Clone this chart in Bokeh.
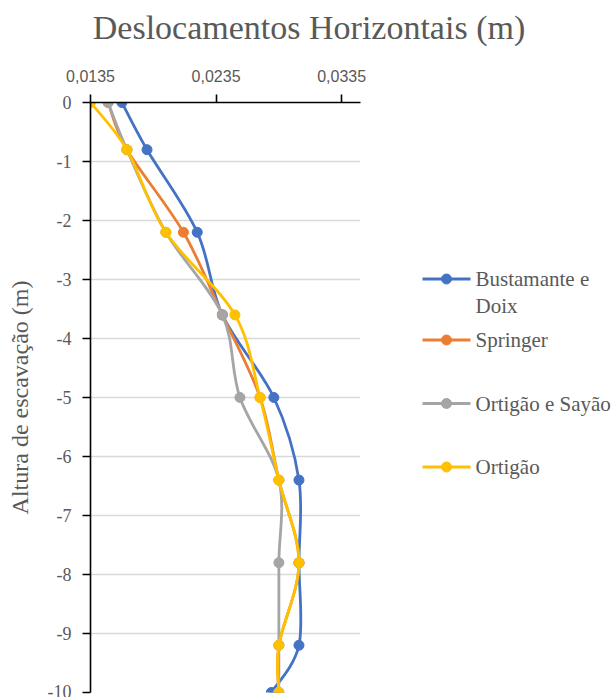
from bokeh.plotting import figure
from bokeh.models import Range1d, FixedTicker
from bokeh.layouts import column, row
from bokeh.core.properties import value
from bokeh.embed import file_html
from bokeh.resources import INLINE

# Depth below the top of the excavation (m)
depth = [0.0, -0.8, -2.2, -3.6, -5.0, -6.4, -7.8, -9.2, -10.0]

# Horizontal displacement (m) for each method
bustamante = [0.0160, 0.0180, 0.0220, 0.0240, 0.0281, 0.0301, 0.0301, 0.0301, 0.0279]
springer = [0.0149, 0.0164, 0.0209, 0.0240, 0.0270, 0.0285, 0.0301, 0.0285, 0.0285]
sayao = [0.0149, 0.0164, 0.0195, 0.0240, 0.0254, 0.0285, 0.0285, 0.0285, 0.0285]
ortigao = [0.0135, 0.0164, 0.0195, 0.0250, 0.0270, 0.0285, 0.0301, 0.0285, 0.0285]

# Legend labels, already wrapped to the width of the key column
series_label_lines = [["Bustamante e", "Doix"], ["Springer"], ["Ortigão e Sayão"], ["Ortigão"]]
series_colors = ["#4472C4", "#ED7D31", "#A5A5A5", "#FFC000"]

x_ticks = [0.0135, 0.0235, 0.0335]
x_tick_labels = ["0,0135", "0,0235", "0,0335"]
y_ticks = [0, -1, -2, -3, -4, -5, -6, -7, -8, -9, -10]
y_tick_labels = ["0", "-1", "-2", "-3", "-4", "-5", "-6", "-7", "-8", "-9", "-10"]

TITLE = "Deslocamentos Horizontais (m)"
Y_LABEL = "Altura de escavação (m)"
SERIF = "Liberation Serif"
TEXT_GRAY = "#595959"

W, H = 616, 697
HEAD_H = 56
MAIN_W = 380
BODY_H = H - HEAD_H
FRAME_TOP = 46      # space above the plotting area inside the body row
FRAME_BOTTOM = 5    # space below it


def smooth_segments(xs, ys):
    """Cubic Bezier pieces (Catmull-Rom style) through consecutive points."""
    n = len(xs)
    out = {k: [] for k in ("x0", "y0", "x1", "y1", "cx0", "cy0", "cx1", "cy1")}
    for i in range(n - 1):
        a = i - 1 if i > 0 else i
        b = i + 2 if i + 2 < n else i + 1
        out["x0"].append(xs[i]); out["y0"].append(ys[i])
        out["x1"].append(xs[i + 1]); out["y1"].append(ys[i + 1])
        out["cx0"].append(xs[i] + (xs[i + 1] - xs[a]) / 6.0)
        out["cy0"].append(ys[i] + (ys[i + 1] - ys[a]) / 6.0)
        out["cx1"].append(xs[i + 1] - (xs[b] - xs[i]) / 6.0)
        out["cy1"].append(ys[i + 1] - (ys[b] - ys[i]) / 6.0)
    return out


# ---- header with the chart title
head = figure(title=None, width=W, height=HEAD_H, x_range=Range1d(0, W), y_range=Range1d(HEAD_H, 0),
              x_axis_type=None, y_axis_type=None, min_border=0,
              output_backend="svg", toolbar_location=None)
head.outline_line_color = None
head.text(x=[W / 2 + 0.5], y=[27], text=[TITLE], text_align="center",
          text_baseline="alphabetic", text_font=value(SERIF),
          text_font_size="34px", text_color=TEXT_GRAY)

# ---- main chart
p = figure(title=None, width=MAIN_W, height=BODY_H,
           x_range=Range1d(0.0135, 0.035), y_range=Range1d(-10, 0),
           x_axis_location="above",
           min_border_left=90, min_border_right=20,
           min_border_top=FRAME_TOP, min_border_bottom=FRAME_BOTTOM,
           output_backend="svg", toolbar_location=None)
p.outline_line_color = None
p.xgrid.visible = False
p.ygrid.grid_line_color = "#D9D9D9"
p.ygrid.grid_line_width = 1.3

p.xaxis.ticker = FixedTicker(ticks=x_ticks)
p.xaxis.major_label_overrides = dict(zip(x_ticks, x_tick_labels))
p.xaxis.major_label_text_font = "Liberation Sans"
p.xaxis.major_label_text_font_size = "16px"
p.xaxis.major_label_standoff = 13

p.yaxis.ticker = FixedTicker(ticks=y_ticks)
p.yaxis.major_label_overrides = dict(zip(y_ticks, y_tick_labels))
p.yaxis.major_label_text_font = SERIF
p.yaxis.major_label_text_font_size = "18px"
p.yaxis.major_label_standoff = 11
p.yaxis.axis_label = Y_LABEL
p.yaxis.axis_label_text_font = SERIF
p.yaxis.axis_label_text_font_size = "24px"
p.yaxis.axis_label_text_font_style = "normal"
p.yaxis.axis_label_text_color = TEXT_GRAY
p.yaxis.axis_label_standoff = 12

for ax in (p.xaxis[0], p.yaxis[0]):
    ax.axis_line_color = "black"
    ax.axis_line_width = 1.6
    ax.major_tick_line_color = "black"
    ax.major_tick_line_width = 1.6
    ax.major_tick_out = 8
    ax.major_tick_in = 0
    ax.minor_tick_line_color = None
    ax.major_label_text_color = TEXT_GRAY

for xs, color in zip([bustamante, springer, sayao, ortigao], series_colors):
    seg = smooth_segments(xs, depth)
    p.bezier(**seg, line_color=color, line_width=2.8, line_cap="round")
    p.scatter(x=xs, y=depth, size=10, marker="circle",
              fill_color=color, line_color=color)

# ---- legend panel (its plotting area lines up with the main one)
leg_top = HEAD_H + FRAME_TOP
leg_bottom = H - FRAME_BOTTOM
leg = figure(title=None, width=W - MAIN_W, height=BODY_H,
             x_range=Range1d(MAIN_W, W), y_range=Range1d(leg_bottom, leg_top),
             x_axis_type=None, y_axis_type=None, min_border=0,
             output_backend="svg", toolbar_location=None)
leg.outline_line_color = None

key_y = [278.5, 339.5, 403, 466.5]
key_x0, key_x1, key_text_x = 422, 470, 475
line_step = 26.5
leg.segment(x0=[key_x0] * 4, y0=key_y, x1=[key_x1] * 4, y1=key_y,
            line_color=series_colors, line_width=2.8)
leg.scatter(x=[(key_x0 + key_x1) / 2] * 4, y=key_y, size=10, marker="circle",
            fill_color=series_colors, line_color=series_colors)

txt_x, txt_y, txt = [], [], []
for ky, lines in zip(key_y, series_label_lines):
    for j, s in enumerate(lines):
        txt_x.append(key_text_x)
        txt_y.append(ky + j * line_step)
        txt.append(s)
leg.text(x=txt_x, y=txt_y, text=txt, text_align="left", text_baseline="middle",
         text_font=value(SERIF), text_font_size="21px", text_color=TEXT_GRAY)

layout = column(head, row(p, leg, spacing=0), spacing=0)

open("out.html", "w").write(file_html(layout, INLINE))
